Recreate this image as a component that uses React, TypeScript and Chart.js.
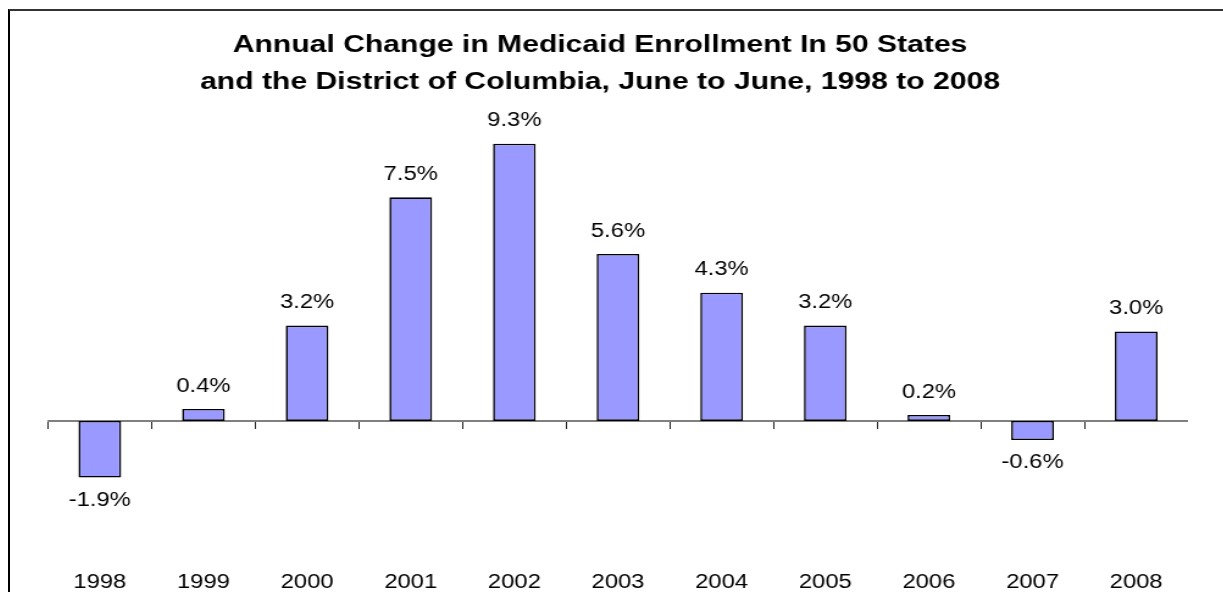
import React, { useEffect, useRef } from "react";
import { Chart, registerables } from "chart.js";

Chart.register(...registerables);

const titleLines = [
  "Annual Change in Medicaid Enrollment In 50 States",
  "and the District of Columbia, June to June, 1998 to 2008",
];
const years = ["1998", "1999", "2000", "2001", "2002", "2003", "2004", "2005", "2006", "2007", "2008"];
const changePct = [-1.9, 0.4, 3.2, 7.5, 9.3, 5.6, 4.3, 3.2, 0.2, -0.64, 3.0];
const yMin = -4.7;
const yMax = 10;

const FONT = '"Liberation Sans", Arial, Helvetica, sans-serif';
const INTERNAL_W = 964;
const INTERNAL_H = 592;
const CSS_W = 1176;

const valueLabels = {
  id: "valueLabels",
  afterDatasetsDraw(chart: any) {
    const ctx = chart.ctx;
    const meta = chart.getDatasetMeta(0);
    ctx.save();
    ctx.font = `19.5px ${FONT}`;
    ctx.fillStyle = "#000";
    ctx.textAlign = "center";
    ctx.textBaseline = "alphabetic";
    meta.data.forEach((bar: any, i: number) => {
      const v = changePct[i];
      const { x, y } = bar.getProps(["x", "y"], true);
      const text = v.toFixed(1) + "%";
      ctx.fillText(text, x, v >= 0 ? y - 17.3 : y + 28.3);
    });
    ctx.restore();
  },
};

export default function App() {
  const ref = useRef<HTMLCanvasElement | null>(null);

  useEffect(() => {
    if (!ref.current) return;
    const chart = new Chart(ref.current, {
      type: "bar",
      data: {
        labels: years,
        datasets: [
          {
            data: changePct,
            backgroundColor: "#9999FF",
            borderColor: "#000000",
            borderWidth: 1.6,
            borderSkipped: false,
            categoryPercentage: 1,
            barPercentage: 0.412,
            xAxisID: "x",
            yAxisID: "y",
          },
        ],
      },
      options: {
        responsive: false,
        animation: false,
        layout: { padding: 0 },
        plugins: {
          legend: { display: false },
          tooltip: { enabled: false },
          title: {
            display: true,
            text: titleLines,
            color: "#000",
            font: { family: FONT, size: 24.7, weight: "bold", lineHeight: 1.505 },
            padding: { top: 26.5, bottom: 22 },
          },
        },
        scales: {
          x: {
            type: "category",
            position: "bottom",
            offset: true,
            grid: { display: false, drawTicks: false },
            border: { display: false },
            ticks: { color: "#000", font: { family: FONT, size: 19.5 }, padding: 9.6, maxRotation: 0, autoSkip: false },
            afterFit: (s: any) => {
              s.height = 31;
            },
          },
          x0: {
            type: "category",
            axis: "x",
            position: { y: 0 },
            offset: true,
            ticks: { display: false },
            grid: {
              display: true,
              drawOnChartArea: false,
              drawTicks: true,
              tickLength: 7,
              color: "#222",
              lineWidth: 1,
              offset: true,
            },
            border: { display: true, color: "#808080", width: 2 },
          },
          y: {
            type: "linear",
            min: yMin,
            max: yMax,
            position: "left",
            grid: { display: false },
            border: { display: false },
            ticks: { display: false },
            afterFit: (s: any) => {
              s.width = 29.5;
            },
          },
        },
      } as any,
      plugins: [valueLabels],
    });
    return () => chart.destroy();
  }, []);

  return (
    <div style={{ position: "fixed", left: 0, top: 0, width: 1223, height: 592, overflow: "hidden", background: "#fff" }}>
      <div
        style={{
          position: "absolute",
          left: 8,
          top: 9,
          width: 1400,
          height: 800,
          borderTop: "2px solid #333",
          borderLeft: "2px solid #000",
        }}
      />
      <canvas
        ref={ref}
        width={INTERNAL_W}
        height={INTERNAL_H}
        style={{ position: "absolute", left: 12, top: 0, width: CSS_W, height: INTERNAL_H }}
      />
    </div>
  );
}
